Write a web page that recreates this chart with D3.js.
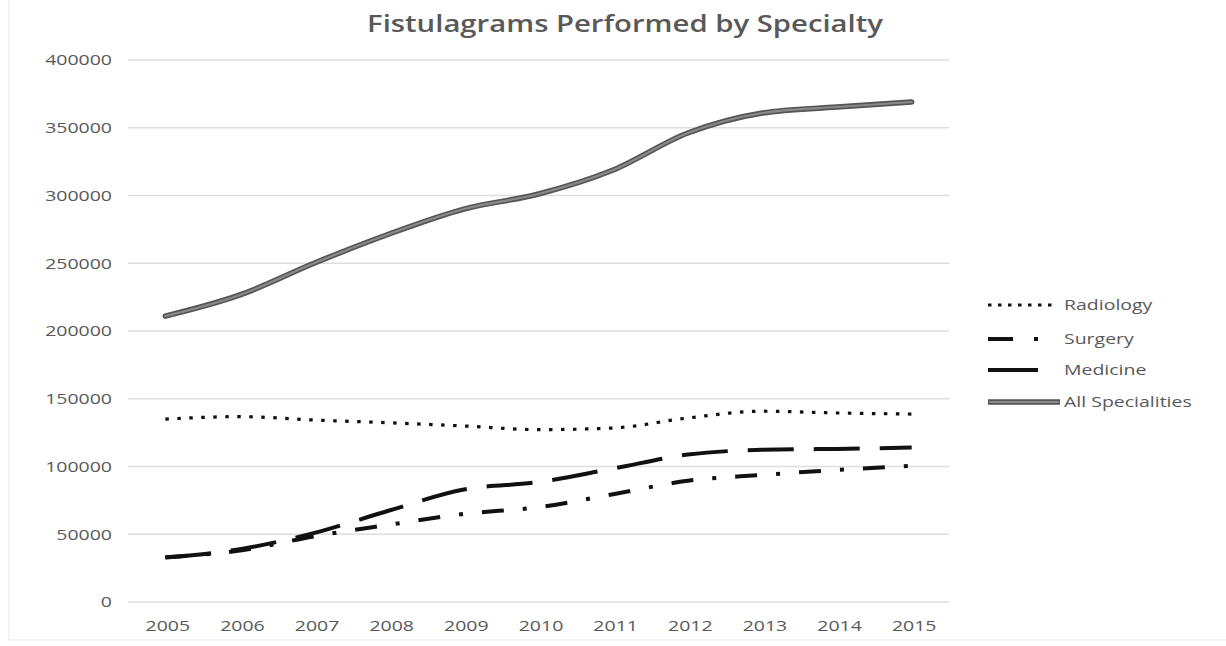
<!DOCTYPE html>
<html>
<head>
<meta charset="utf-8">
<script src="https://cdn.jsdelivr.net/npm/d3@7"></script>
<style>
  html, body { margin: 0; padding: 0; background: #fff; }
  svg { display: block; }
  text { font-family: "Open Sans", "Noto Sans", sans-serif; }
</style>
</head>
<body>
<svg id="chart" width="1226" height="646"></svg>
<script>
// Fistulagrams performed per year, by specialty
const years = ["2005", "2006", "2007", "2008", "2009", "2010", "2011", "2012", "2013", "2014", "2015"];
const radiology = [135000, 136800, 134300, 132300, 129900, 127200, 128400, 135800, 140800, 139500, 138700];
const surgery = [33000, 38000, 48500, 57000, 65000, 70000, 79500, 89500, 93800, 97500, 100500];
const medicine = [32800, 39000, 51000, 67500, 83000, 88500, 98500, 108800, 112300, 113000, 114000];
const allSpecialities = [211000, 226600, 250200, 271600, 290000, 301100, 318800, 346100, 360900, 365300, 369000];
const yTicks = [0, 50000, 100000, 150000, 200000, 250000, 300000, 350000, 400000];
const seriesNames = ["Radiology", "Surgery", "Medicine", "All Specialities"];

const svg = d3.select("#chart");
const W = 1226, H = 646;
const m = { left: 128, right: 277, top: 60, bottom: 44 };
const SX = 1.3; // horizontal stretch of the label type

svg.append("rect").attr("width", W).attr("height", H).attr("fill", "#fff");

// faint frame of the chart area
svg.append("path")
  .attr("d", `M9,0 V640 H${W}`)
  .attr("fill", "none").attr("stroke", "#e8edf4").attr("stroke-width", 1.2);

const x = d3.scalePoint().domain(years).range([m.left, W - m.right]).padding(0.5);
const y = d3.scaleLinear().domain([0, 400000]).range([H - m.bottom, m.top]);

// gridlines
svg.append("g")
  .selectAll("line")
  .data(yTicks)
  .join("line")
  .attr("x1", m.left).attr("x2", W - m.right)
  .attr("y1", d => y(d)).attr("y2", d => y(d))
  .attr("stroke", "#dedede").attr("stroke-width", 1.6);

// y axis labels
const yAxis = d3.axisLeft(y).tickValues(yTicks).tickSize(0).tickPadding(16).tickFormat(d3.format("d"));
svg.append("g").attr("transform", `translate(${m.left},0)`).call(yAxis)
  .call(g => g.select(".domain").remove())
  .selectAll("text")
  .attr("font-size", 15).attr("fill", "#595959")
  .attr("x", -16 / SX)
  .attr("transform", `scale(${SX},1)`)
  .style("font-family", '"Open Sans", sans-serif');

// x axis labels
const xAxis = d3.axisBottom(x).tickSize(0).tickPadding(18);
svg.append("g").attr("transform", `translate(0,${H - m.bottom})`).call(xAxis)
  .call(g => g.select(".domain").remove())
  .selectAll("text")
  .attr("font-size", 15).attr("fill", "#595959")
  .attr("x", 2 / SX)
  .attr("transform", `scale(${SX},1)`)
  .style("font-family", '"Open Sans", sans-serif');

const line = d3.line()
  .x((d, i) => x(years[i]))
  .y(d => y(d))
  .curve(d3.curveMonotoneX);

const styles = {
  "Radiology": { data: radiology, dash: "3.5,8.5", width: 3.2 },
  "Surgery": { data: surgery, dash: "22,19,4,19", width: 4 },
  "Medicine": { data: medicine, dash: "46,20", width: 4 }
};

// All Specialities: double-stroke grey line
svg.append("path").datum(allSpecialities)
  .attr("d", line).attr("fill", "none")
  .attr("stroke", "#555").attr("stroke-width", 5.5).attr("stroke-linecap", "round");
svg.append("path").datum(allSpecialities)
  .attr("d", line).attr("fill", "none")
  .attr("stroke", "#8a8a8a").attr("stroke-width", 2.2).attr("stroke-linecap", "round");

["Radiology", "Surgery", "Medicine"].forEach(name => {
  const s = styles[name];
  svg.append("path").datum(s.data)
    .attr("d", line).attr("fill", "none")
    .attr("stroke", "#111").attr("stroke-width", s.width)
    .attr("stroke-dasharray", s.dash);
});

// title
svg.append("text")
  .attr("transform", "translate(625,32) scale(1.22,1)")
  .attr("text-anchor", "middle")
  .attr("font-size", 24).attr("font-weight", 600)
  .attr("fill", "#595959")
  .text("Fistulagrams Performed by Specialty");

// legend
const lg = svg.append("g").attr("transform", "translate(988,0)");
const rowsY = [305, 339, 370, 402];
seriesNames.forEach((name, i) => {
  const yy = rowsY[i];
  const row = lg.append("g");
  if (name === "Radiology") {
    row.append("line").attr("x1", 0).attr("x2", 70).attr("y1", yy).attr("y2", yy)
      .attr("stroke", "#111").attr("stroke-width", 3).attr("stroke-dasharray", "3.5,6.5");
  } else if (name === "Surgery") {
    row.append("line").attr("x1", 0).attr("x2", 54).attr("y1", yy).attr("y2", yy)
      .attr("stroke", "#111").attr("stroke-width", 4).attr("stroke-dasharray", "25,21,4,50");
  } else if (name === "Medicine") {
    row.append("line").attr("x1", 0).attr("x2", 50).attr("y1", yy).attr("y2", yy)
      .attr("stroke", "#111").attr("stroke-width", 4);
  } else {
    row.append("line").attr("x1", 0).attr("x2", 72).attr("y1", yy).attr("y2", yy)
      .attr("stroke", "#555").attr("stroke-width", 5.5);
    row.append("line").attr("x1", 1).attr("x2", 71).attr("y1", yy).attr("y2", yy)
      .attr("stroke", "#8a8a8a").attr("stroke-width", 2.2);
  }
  row.append("text")
    .attr("transform", `translate(76,${yy + 5}) scale(${SX},1)`)
    .attr("font-size", 15).attr("fill", "#595959")
    .text(name);
});
</script>
</body>
</html>
